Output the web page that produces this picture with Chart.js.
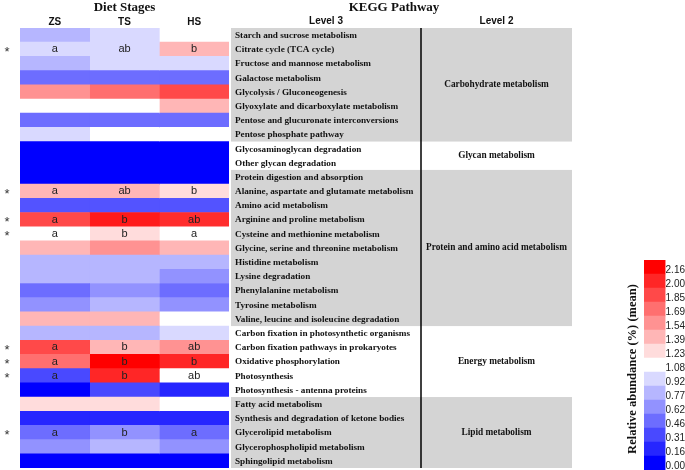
<!DOCTYPE html>
<html>
<head>
<meta charset="utf-8">
<script src="https://cdn.jsdelivr.net/npm/chart.js@4"></script>
<style>
  body { margin: 0; background: #fff; overflow: hidden; }
  #main { position: absolute; left: 0; top: 0; width: 600px; height: 470px; }
  #bar { position: absolute; left: 600px; top: 250px; width: 85px; height: 226px; }
</style>
</head>
<body>
<div id="main"><canvas id="heat"></canvas></div>
<div id="bar"><canvas id="scale"></canvas></div>
<script>
const stages = ["ZS", "TS", "HS"];

const level3 = [
  "Starch and sucrose metabolism",
  "Citrate cycle (TCA cycle)",
  "Fructose and mannose metabolism",
  "Galactose metabolism",
  "Glycolysis / Gluconeogenesis",
  "Glyoxylate and dicarboxylate metabolism",
  "Pentose and glucuronate interconversions",
  "Pentose phosphate pathway",
  "Glycosaminoglycan degradation",
  "Other glycan degradation",
  "Protein digestion and absorption",
  "Alanine, aspartate and glutamate metabolism",
  "Amino acid metabolism",
  "Arginine and proline metabolism",
  "Cysteine and methionine metabolism",
  "Glycine, serine and threonine metabolism",
  "Histidine metabolism",
  "Lysine degradation",
  "Phenylalanine metabolism",
  "Tyrosine metabolism",
  "Valine, leucine and isoleucine degradation",
  "Carbon fixation in photosynthetic organisms",
  "Carbon fixation pathways in prokaryotes",
  "Oxidative phosphorylation",
  "Photosynthesis",
  "Photosynthesis - antenna proteins",
  "Fatty acid metabolism",
  "Synthesis and degradation of ketone bodies",
  "Glycerolipid metabolism",
  "Glycerophospholipid metabolism",
  "Sphingolipid metabolism"
];

const level2Names = ["Carbohydrate metabolism", "Glycan metabolism", "Protein and amino acid metabolism", "Energy metabolism", "Lipid metabolism"];
const level2Counts = [8, 2, 11, 5, 5];

// relative abundance (%) (mean)
const zsValues = [0.77, 0.92, 0.77, 0.46, 1.54, 1.08, 0.46, 0.92, 0, 0, 0,
  1.39, 0.35, 1.85, 1.08, 1.39, 0.77, 0.77, 0.46, 0.62, 1.39,
  0.77, 1.85, 1.69, 0.31, 0, 1.23, 0.16, 0.46, 0.62, 0];
const tsValues = [0.92, 0.92, 0.92, 0.46, 1.69, 1.08, 0.46, 1.08, 0, 0, 0,
  1.39, 0.35, 2.05, 1.23, 1.54, 0.77, 0.77, 0.62, 0.77, 1.39,
  0.77, 1.39, 2.16, 2.0, 0.31, 1.23, 0.16, 0.62, 0.77, 0];
const hsValues = [1.08, 1.39, 0.92, 0.46, 1.85, 1.39, 0.46, 1.08, 0, 0, 0,
  1.23, 0.35, 1.97, 1.08, 1.39, 0.77, 0.62, 0.46, 0.62, 1.08,
  0.92, 1.54, 2.0, 1.08, 0.16, 1.08, 0.16, 0.46, 0.62, 0];

// significance letters, row index -> [ZS, TS, HS]
const sigRows = [1, 11, 13, 14, 22, 23, 24, 28];
const sigLetters = [
  ["a", "ab", "b"], ["a", "ab", "b"], ["a", "b", "ab"], ["a", "b", "a"],
  ["a", "b", "ab"], ["a", "b", "b"], ["a", "b", "ab"], ["a", "b", "a"]
];

const scaleTicks = ["2.16", "2.00", "1.85", "1.69", "1.54", "1.39", "1.23", "1.08",
  "0.92", "0.77", "0.62", "0.46", "0.31", "0.16", "0.00"];

const vMax = 2.16;
function colorFor(v) {
  const mid = vMax / 2;
  if (v <= mid) {
    const s = Math.round(255 * v / mid);
    return `rgb(${s},${s},255)`;
  }
  const s = Math.round(255 * (vMax - v) / mid);
  return `rgb(255,${s},${s})`;
}

const serif = '"Liberation Serif", "Times New Roman", serif';
const sans = '"Liberation Sans", Arial, sans-serif';

const heatLabels = {
  id: "heatLabels",
  afterDraw(chart) {
    const ctx = chart.ctx;
    const y = chart.scales.y;
    const x = chart.scales.x;
    const area = chart.chartArea;
    const rowH = (area.bottom - area.top) / level3.length;
    const textLeft = 235, divider = 421, greyRight = 572;

    ctx.save();
    // level 2 group bands
    let start = 0;
    level2Names.forEach((name, g) => {
      const top = y.getPixelForValue(start) - rowH / 2;
      const bottom = y.getPixelForValue(start + level2Counts[g] - 1) + rowH / 2;
      if (g % 2 === 0) {
        ctx.fillStyle = "#d4d4d4";
        ctx.fillRect(area.right + 2, top, greyRight - area.right - 2, bottom - top);
      }
      ctx.fillStyle = "#111";
      ctx.font = "bold 9.3px " + serif;
      ctx.textAlign = "center";
      ctx.textBaseline = "middle";
      ctx.fillText(name, (divider + greyRight) / 2, (top + bottom) / 2);
      start += level2Counts[g];
    });

    // level 3 labels
    ctx.textAlign = "left";
    ctx.font = "bold 9.2px " + serif;
    level3.forEach((name, i) => {
      ctx.fillText(name, textLeft, y.getPixelForValue(i) + 0.5);
    });

    // divider line
    ctx.strokeStyle = "#000";
    ctx.lineWidth = 1.5;
    ctx.beginPath();
    ctx.moveTo(divider, area.top);
    ctx.lineTo(divider, area.bottom);
    ctx.stroke();

    // letters and asterisks
    sigRows.forEach((r, k) => {
      const cy = y.getPixelForValue(r);
      ctx.font = "11px " + sans;
      ctx.fillStyle = "#222";
      ctx.textAlign = "center";
      sigLetters[k].forEach((t, c) => {
        ctx.fillText(t, x.getPixelForValue(c + 0.5), cy);
      });
      ctx.font = "13px " + sans;
      ctx.fillStyle = "#333";
      ctx.fillText("*", 7, cy + 3);
    });

    // headers
    ctx.fillStyle = "#111";
    ctx.textAlign = "center";
    ctx.font = "bold 13px " + serif;
    ctx.fillText("Diet Stages", (area.left + area.right) / 2, 8);
    ctx.fillText("KEGG Pathway", 394, 8);
    ctx.font = "bold 10px " + sans;
    stages.forEach((s, c) => ctx.fillText(s, x.getPixelForValue(c + 0.5), 22));
    ctx.fillText("Level 3", (textLeft + divider) / 2 - 2, 21);
    ctx.fillText("Level 2", (divider + greyRight) / 2, 21);
    ctx.restore();
  }
};

new Chart(document.getElementById("heat"), {
  type: "bar",
  data: {
    labels: level3,
    datasets: [zsValues, tsValues, hsValues].map((vals, i) => ({
      label: stages[i],
      data: vals.map(() => 1),
      backgroundColor: vals.map(colorFor),
      borderWidth: 0,
      barPercentage: 1,
      categoryPercentage: 1
    }))
  },
  options: {
    indexAxis: "y",
    responsive: true,
    maintainAspectRatio: false,
    animation: false,
    layout: { padding: { left: 20, top: 28, right: 371, bottom: 2 } },
    plugins: { legend: { display: false }, tooltip: { enabled: false } },
    scales: {
      x: { type: "linear", stacked: true, min: 0, max: 3, display: false },
      y: { stacked: true, display: false }
    }
  },
  plugins: [heatLabels]
});

const scaleTitle = {
  id: "scaleTitle",
  afterDraw(chart) {
    const ctx = chart.ctx;
    const area = chart.chartArea;
    ctx.save();
    ctx.translate(area.left - 11, (area.top + area.bottom) / 2 + 4);
    ctx.rotate(-Math.PI / 2);
    ctx.font = "bold 12.5px " + serif;
    ctx.fillStyle = "#111";
    ctx.textAlign = "center";
    ctx.textBaseline = "middle";
    ctx.fillText("Relative abundance (%) (mean)", 0, 0);
    ctx.restore();
  }
};

new Chart(document.getElementById("scale"), {
  type: "bar",
  data: {
    labels: scaleTicks,
    datasets: [{
      data: scaleTicks.map(() => 1),
      backgroundColor: scaleTicks.map((t) => colorFor(Number(t))),
      borderWidth: 0,
      barPercentage: 1,
      categoryPercentage: 1
    }]
  },
  options: {
    indexAxis: "y",
    responsive: true,
    maintainAspectRatio: false,
    animation: false,
    layout: { padding: { left: 44, top: 10, right: 0, bottom: 1 } },
    plugins: { legend: { display: false }, tooltip: { enabled: false } },
    scales: {
      x: { min: 0, max: 1, display: false },
      y: {
        position: "right",
        grid: { display: false, drawTicks: false },
        border: { display: false },
        ticks: { color: "#222", font: { size: 10, family: sans }, padding: 0, labelOffset: 3, autoSkip: false }
      }
    }
  },
  plugins: [scaleTitle]
});
</script>
</body>
</html>
